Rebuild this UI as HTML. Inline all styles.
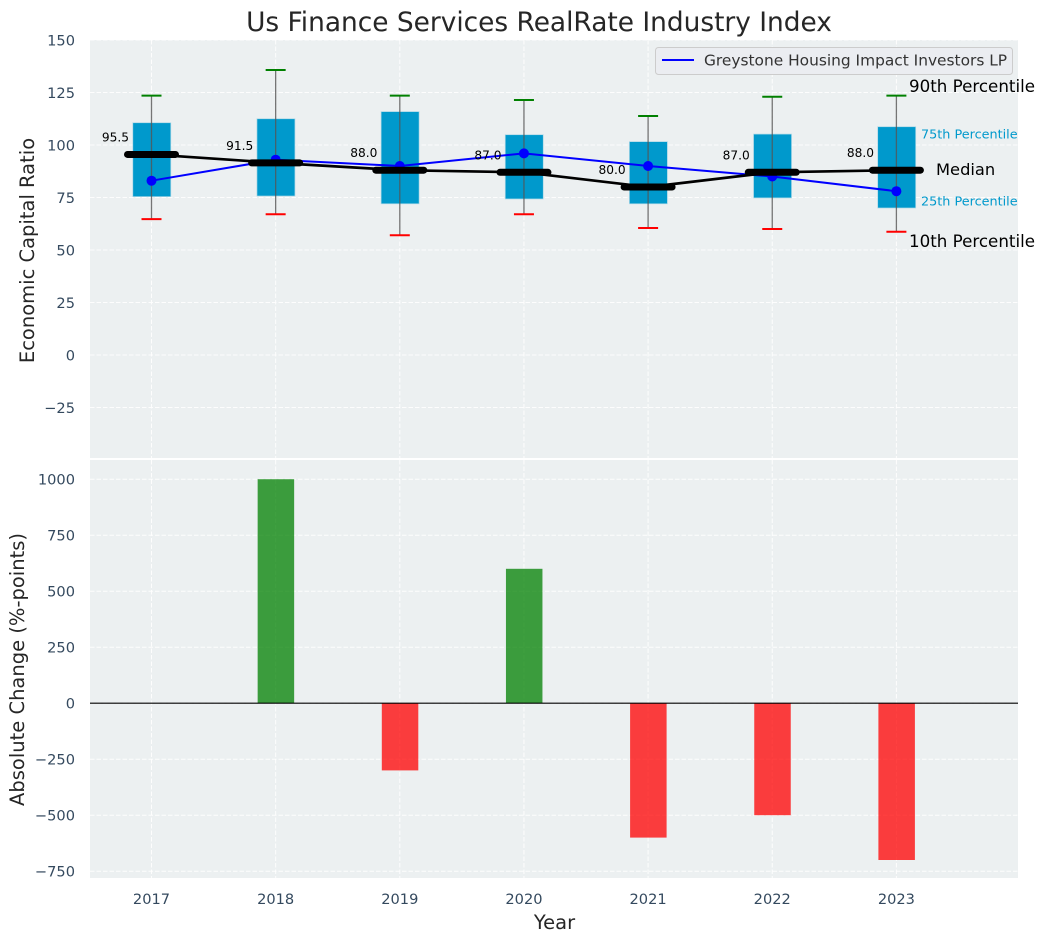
<!DOCTYPE html>
<html><head><meta charset="utf-8"><title>Us Finance Services RealRate Industry Index</title>
<style>html,body{margin:0;padding:0;background:#fff}svg{display:block}text{font-family:"DejaVu Sans","Liberation Sans",sans-serif}</style>
</head><body>
<svg id="chart" xmlns="http://www.w3.org/2000/svg" width="1044" height="942" viewBox="0 0 1044 942"></svg>
<script>
const years = [2017, 2018, 2019, 2020, 2021, 2022, 2023];
const p90 = [123.5, 135.7, 123.5, 121.4, 113.8, 123, 123.5];
const p75 = [110.6, 112.5, 115.9, 104.9, 101.6, 105.2, 108.7];
const median = [95.5, 91.5, 88, 87, 80, 87, 88];
const p25 = [75.4, 75.7, 72, 74.3, 72, 74.8, 70];
const p10 = [64.7, 67, 57, 67, 60.5, 60, 58.7];
const company = [83, 93, 90, 96, 90, 85, 78];
const change = [0, 1000, -300, 600, -600, -500, -700];
const topTicks = [150, 125, 100, 75, 50, 25, 0, -25];
const bottomTicks = [1000, 750, 500, 250, 0, -250, -500, -750];

const svg = document.getElementById('chart');
const NS = 'http://www.w3.org/2000/svg';
function x(v){ return 151.5 + (v - 2017) * 124.15; }
function yTop(v){ return 355 - v * 2.1; }
function yBot(v){ return 703.2 - v * 0.224; }
function add(tag, attrs, text){
  const el = document.createElementNS(NS, tag);
  for (const k in attrs) el.setAttribute(k, attrs[k]);
  if (text !== undefined) el.textContent = text;
  svg.appendChild(el);
  return el;
}
function fmt(v){ return v < 0 ? '\u2212' + Math.abs(v) : String(v); }
let el;

el = add('rect', {x:90, y:40, width:928, height:418, fill:'#ecf0f1'});


el = add('rect', {x:90, y:460, width:928, height:418, fill:'#ecf0f1'});



const gridStyle = {stroke:'#fff', 'stroke-width':1, 'stroke-dasharray':'4.5 2', opacity:0.9};
years.forEach(function(yr){
  el = add('line', Object.assign({x1:x(yr), x2:x(yr), y1:40, y2:458}, gridStyle));
  
  
  el = add('line', Object.assign({x1:x(yr), x2:x(yr), y1:460, y2:878}, gridStyle));
  
  
  el = add('text', {x:x(yr), y:904, 'text-anchor':'middle', 'font-size':14.6, fill:'#34495e'}, String(yr));
  
  
});
topTicks.forEach(function(t){
  el = add('line', Object.assign({x1:90, x2:1018, y1:yTop(t), y2:yTop(t)}, gridStyle));
  
  
  el = add('text', {x:75, y:yTop(t)+5.5, 'text-anchor':'end', 'font-size':14.6, fill:'#34495e'}, fmt(t));
  
  
});
bottomTicks.forEach(function(t){
  el = add('line', Object.assign({x1:90, x2:1018, y1:yBot(t), y2:yBot(t)}, gridStyle));
  
  
  el = add('text', {x:75, y:yBot(t)+5.5, 'text-anchor':'end', 'font-size':14.6, fill:'#34495e'}, fmt(t));
  
  
});

years.forEach(function(yr, i){
  el = add('rect', {x:x(yr)-18.7, y:yTop(p75[i]), width:38, height:yTop(p25[i])-yTop(p75[i]), fill:'#0099cc', stroke:'#add8e6', 'stroke-width':0.7});
  
  
  el = add('line', {x1:x(yr), x2:x(yr), y1:yTop(p90[i]), y2:yTop(p10[i]), stroke:'#555', 'stroke-width':1.3, opacity:0.8});
  
  
  el = add('line', {x1:x(yr)-10, x2:x(yr)+10, y1:yTop(p90[i]), y2:yTop(p90[i]), stroke:'#008000', 'stroke-width':2});
  
  
  el = add('line', {x1:x(yr)-10, x2:x(yr)+10, y1:yTop(p10[i]), y2:yTop(p10[i]), stroke:'#ff0000', 'stroke-width':2});
  
  
});

el = add('polyline', {points:years.map(function(yr,i){return x(yr)+','+yTop(company[i]);}).join(' '), fill:'none', stroke:'#0000ff', 'stroke-width':2});


years.forEach(function(yr, i){
  el = add('circle', {cx:x(yr), cy:yTop(company[i]), r:5, fill:'#0000ff'});
  
  
});

el = add('polyline', {points:years.map(function(yr,i){return x(yr)+','+yTop(median[i]);}).join(' '), fill:'none', stroke:'#000', 'stroke-width':2.7});


years.forEach(function(yr, i){
  el = add('line', {x1:x(yr)-24, x2:x(yr)+24, y1:yTop(median[i]), y2:yTop(median[i]), stroke:'#000', 'stroke-width':7, 'stroke-linecap':'round'});
  
  
  el = add('text', {x:x(yr)-36, y:yTop(median[i])-13, 'text-anchor':'middle', 'font-size':12.2, fill:'#000'}, median[i].toFixed(1));
  
  
});

years.forEach(function(yr, i){
  const v = change[i];
  if (v === 0) return;
  el = add('rect', {x:x(yr)-18, y:Math.min(yBot(v), yBot(0)), width:36.5, height:Math.abs(yBot(v)-yBot(0)), fill:v > 0 ? '#008000' : '#ff0000', 'fill-opacity':0.75});
  
  
});
el = add('line', {x1:90, x2:1018, y1:yBot(0), y2:yBot(0), stroke:'#000', 'stroke-width':1.2});



el = add('text', {x:539, y:31, 'text-anchor':'middle', 'font-size':26.4, fill:'#262626'}, 'Us Finance Services RealRate Industry Index');


el = add('text', {x:0, y:0, transform:'translate(34,250.5) rotate(-90)', 'text-anchor':'middle', 'font-size':19.5, fill:'#262626'}, 'Economic Capital Ratio');


el = add('text', {x:0, y:0, transform:'translate(24,669.5) rotate(-90)', 'text-anchor':'middle', 'font-size':19.5, fill:'#262626'}, 'Absolute Change (%-points)');


el = add('text', {x:554.5, y:929, 'text-anchor':'middle', 'font-size':19.5, fill:'#262626'}, 'Year');



el = add('rect', {x:655.5, y:47.5, width:357, height:27, rx:3, fill:'#ebedf1', stroke:'#ccc', 'stroke-width':1});


el = add('line', {x1:662, x2:694, y1:60, y2:60, stroke:'#0000ff', 'stroke-width':2});


el = add('text', {x:704, y:65.5, 'font-size':15.4, fill:'#333'}, 'Greystone Housing Impact Investors LP');



el = add('text', {x:909, y:92, 'font-size':16.7, fill:'#000'}, '90th Percentile');


el = add('text', {x:921, y:138.5, 'font-size':12.8, fill:'#0099cc'}, '75th Percentile');


el = add('text', {x:936, y:175, 'font-size':16.3, fill:'#000'}, 'Median');


el = add('text', {x:921, y:205.5, 'font-size':12.8, fill:'#0099cc'}, '25th Percentile');


el = add('text', {x:909, y:247, 'font-size':16.7, fill:'#000'}, '10th Percentile');


</script>
</body></html>
